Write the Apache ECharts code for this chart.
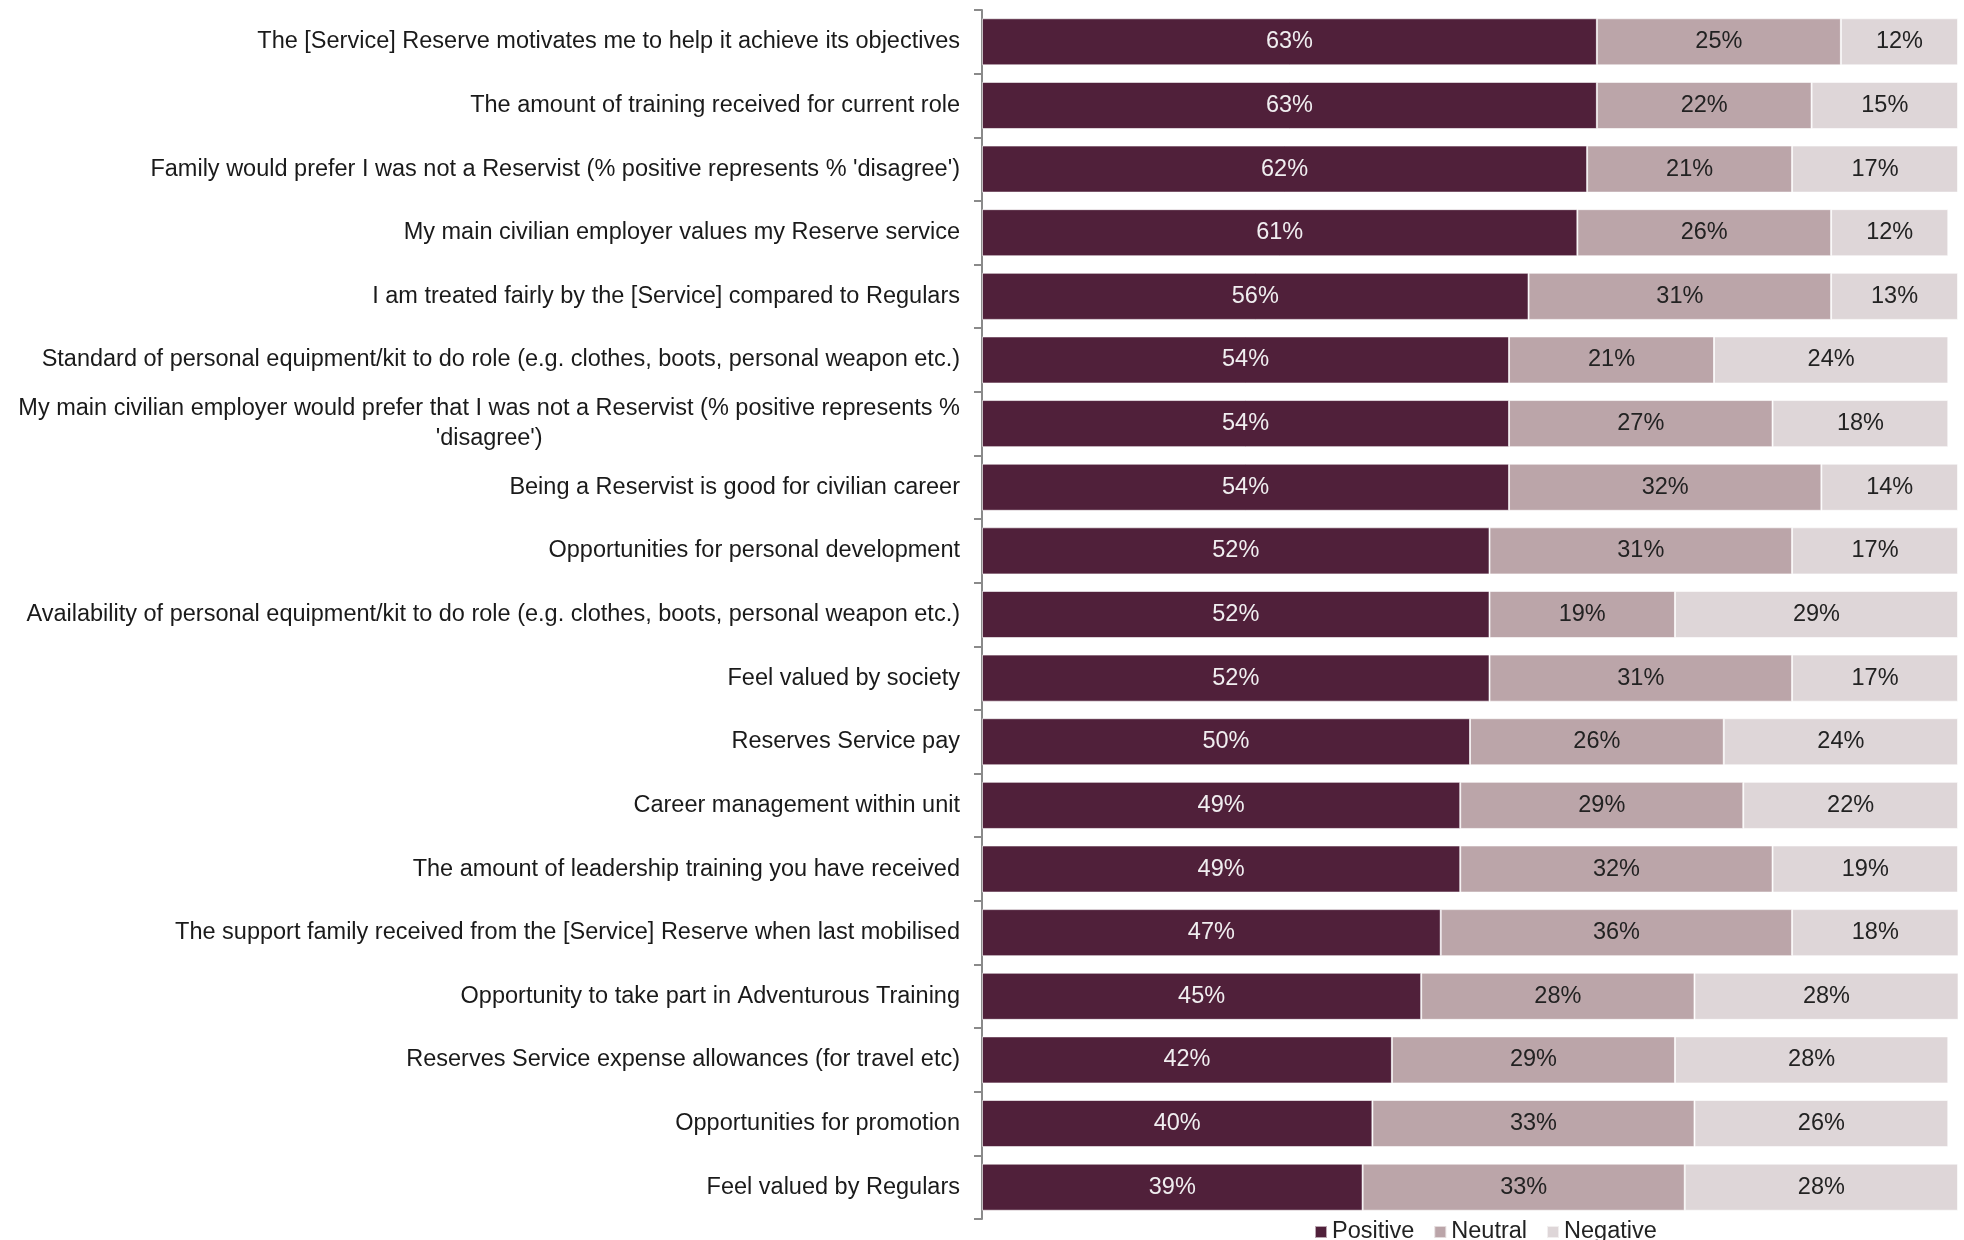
<!DOCTYPE html>
<html>
<head>
<meta charset="utf-8">
<title>Reserves attitudes</title>
<script src="https://cdn.jsdelivr.net/npm/echarts@6/dist/echarts.min.js"></script>
<style>
  html, body { margin: 0; padding: 0; background: #ffffff; }
  #chart { width: 1964px; height: 1240px; }
</style>
</head>
<body>
<div id="chart"></div>
<script>
// Survey items, top to bottom
const categories = [
  "The [Service] Reserve motivates me to help it achieve its objectives",
  "The amount of training received for current role",
  "Family would prefer I was not a Reservist (% positive represents % 'disagree')",
  "My main civilian employer values my Reserve service",
  "I am treated fairly by the [Service] compared to Regulars",
  "Standard of personal equipment/kit to do role (e.g. clothes, boots, personal weapon etc.)",
  "My main civilian employer would prefer that I was not a Reservist (% positive represents %\n'disagree')",
  "Being a Reservist is good for civilian career",
  "Opportunities for personal development",
  "Availability of personal equipment/kit to do role (e.g. clothes, boots, personal weapon etc.)",
  "Feel valued by society",
  "Reserves Service pay",
  "Career management within unit",
  "The amount of leadership training you have received",
  "The support family received from the [Service] Reserve when last mobilised",
  "Opportunity to take part in Adventurous Training",
  "Reserves Service expense allowances (for travel etc)",
  "Opportunities for promotion",
  "Feel valued by Regulars"
];

const seriesNames = ["Positive", "Neutral", "Negative"];

// Percentages per item
const positive = [63, 63, 62, 61, 56, 54, 54, 54, 52, 52, 52, 50, 49, 49, 47, 45, 42, 40, 39];
const neutral  = [25, 22, 21, 26, 31, 21, 27, 32, 31, 19, 31, 26, 29, 32, 36, 28, 29, 33, 33];
const negative = [12, 15, 17, 12, 13, 24, 18, 14, 17, 29, 17, 24, 22, 19, 18, 28, 28, 26, 28];

const colors = ["#50203a", "#bba5a9", "#ded6d8"];
const labelColors = ["#f0eef0", "#222222", "#222222"];
const FONT = "Liberation Sans";
const FS = 23.5;

const chart = echarts.init(document.getElementById("chart"), null, { renderer: "canvas" });

const makeSeries = (name, values, i) => ({
  name: name,
  type: "bar",
  stack: "total",
  data: values,
  barCategoryGap: "26%",
  itemStyle: { color: colors[i], borderColor: "rgba(255,255,255,0.6)", borderWidth: 1 },
  label: {
    show: true,
    position: "inside",
    formatter: "{c}%",
    color: labelColors[i],
    fontFamily: FONT,
    fontSize: FS
  },
  emphasis: { disabled: true }
});

chart.setOption({
  animation: false,
  backgroundColor: "#ffffff",
  grid: { left: 982, right: 6, top: 10, bottom: 21, containLabel: false },
  legend: {
    data: seriesNames,
    left: 1309,
    top: 1215,
    icon: "rect",
    itemWidth: 12,
    itemHeight: 12,
    itemGap: 19,
    textStyle: { fontFamily: FONT, fontSize: FS, color: "#222222" }
  },
  xAxis: {
    type: "value",
    min: 0,
    max: 100,
    show: false
  },
  yAxis: {
    type: "category",
    inverse: true,
    data: categories,
    axisLine: { show: true, lineStyle: { color: "#8a8a8a", width: 2 } },
    axisTick: { show: true, length: 8, lineStyle: { color: "#8a8a8a", width: 2 } },
    axisLabel: {
      margin: 22,
      fontFamily: FONT,
      fontSize: FS,
      color: "#1a1a1a",
      formatter: v => v.split("\n").map(line => "{c|" + line + "}").join("\n"),
      rich: {
        c: { align: "center", fontFamily: FONT, fontSize: FS, lineHeight: 30, color: "#1a1a1a" }
      }
    }
  },
  series: [
    makeSeries(seriesNames[0], positive, 0),
    makeSeries(seriesNames[1], neutral, 1),
    makeSeries(seriesNames[2], negative, 2)
  ]
});
</script>
</body>
</html>
